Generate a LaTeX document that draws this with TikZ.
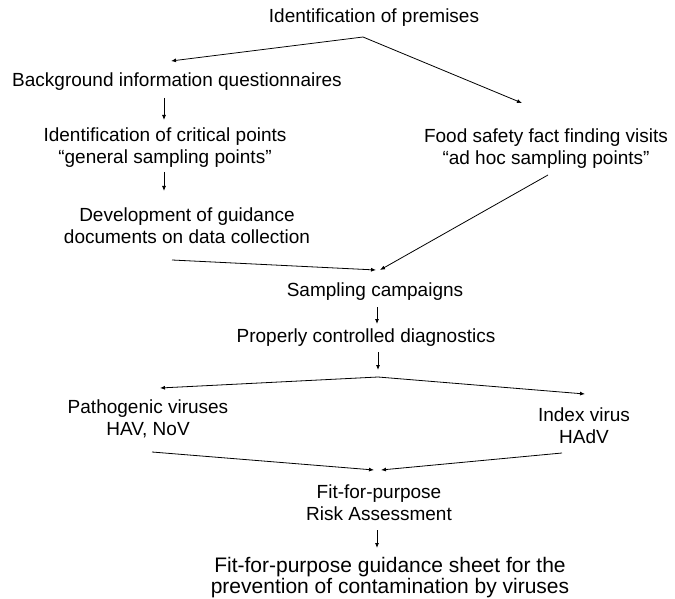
\documentclass[tikz,border=0pt]{standalone}
\usepackage{fontspec}
\setmainfont{Liberation Sans}
\usetikzlibrary{arrows.meta}
\begin{document}
\begin{tikzpicture}[x=1pt,y=-1pt,
  lbl/.style={align=center,inner sep=0pt,font=\fontsize{19}{22}\selectfont},
  biglbl/.style={lbl,font=\fontsize{21}{21}\selectfont},
  conn/.style={line width=0.8pt,-{Latex[length=5pt,width=4pt]}}]
\useasboundingbox (0,0) rectangle (675,599);
\node[lbl] (prem) at (374,18) {Identification of premises};
\node[lbl] (bg) at (177,82) {Background information questionnaires};
\node[lbl] (crit) at (165,148) {Identification of critical points\\“general sampling points”};
\node[lbl] (dev) at (187,226) {Development of guidance\\documents on data collection};
\node[lbl] (food) at (546,149) {Food safety fact finding visits\\“ad hoc sampling points”};
\node[lbl] (samp) at (375,292) {Sampling campaigns};
\node[lbl] (diag) at (366,338) {Properly controlled diagnostics};
\node[lbl] (path) at (148,419) {Pathogenic viruses\\HAV, NoV};
\node[lbl] (index) at (584,426) {Index virus\\HAdV};
\node[lbl] (fit) at (379,503) {Fit-for-purpose\\Risk Assessment};
\node[biglbl] (sheet) at (390,578) {Fit-for-purpose guidance sheet for the\\prevention of contamination by viruses};
\coordinate (s1) at (363,37);
\coordinate (a1) at (171,61);
\coordinate (a2) at (522,103);
\coordinate (b1) at (164,98);
\coordinate (b2) at (164,120);
\coordinate (c1) at (164,172);
\coordinate (c2) at (164,191);
\coordinate (d1) at (172,260);
\coordinate (d2) at (376,270);
\coordinate (e1) at (548,175);
\coordinate (e2) at (380,270);
\coordinate (f1) at (377,307);
\coordinate (f2) at (377,324);
\coordinate (g1) at (378,352);
\coordinate (g2) at (378,370);
\coordinate (s2) at (378,377);
\coordinate (h1) at (160,388);
\coordinate (h2) at (585,394);
\coordinate (i1) at (152,452);
\coordinate (i2) at (374,470);
\coordinate (j1) at (562,453);
\coordinate (j2) at (381,470);
\coordinate (k1) at (377,530);
\coordinate (k2) at (377,548);
\draw[conn] (s1) -- (a1);
\draw[conn] (s1) -- (a2);
\draw[conn] (b1) -- (b2);
\draw[conn] (c1) -- (c2);
\draw[conn] (d1) -- (d2);
\draw[conn] (e1) -- (e2);
\draw[conn] (f1) -- (f2);
\draw[conn] (g1) -- (g2);
\draw[conn] (s2) -- (h1);
\draw[conn] (s2) -- (h2);
\draw[conn] (i1) -- (i2);
\draw[conn] (j1) -- (j2);
\draw[conn] (k1) -- (k2);
\end{tikzpicture}
\end{document}
